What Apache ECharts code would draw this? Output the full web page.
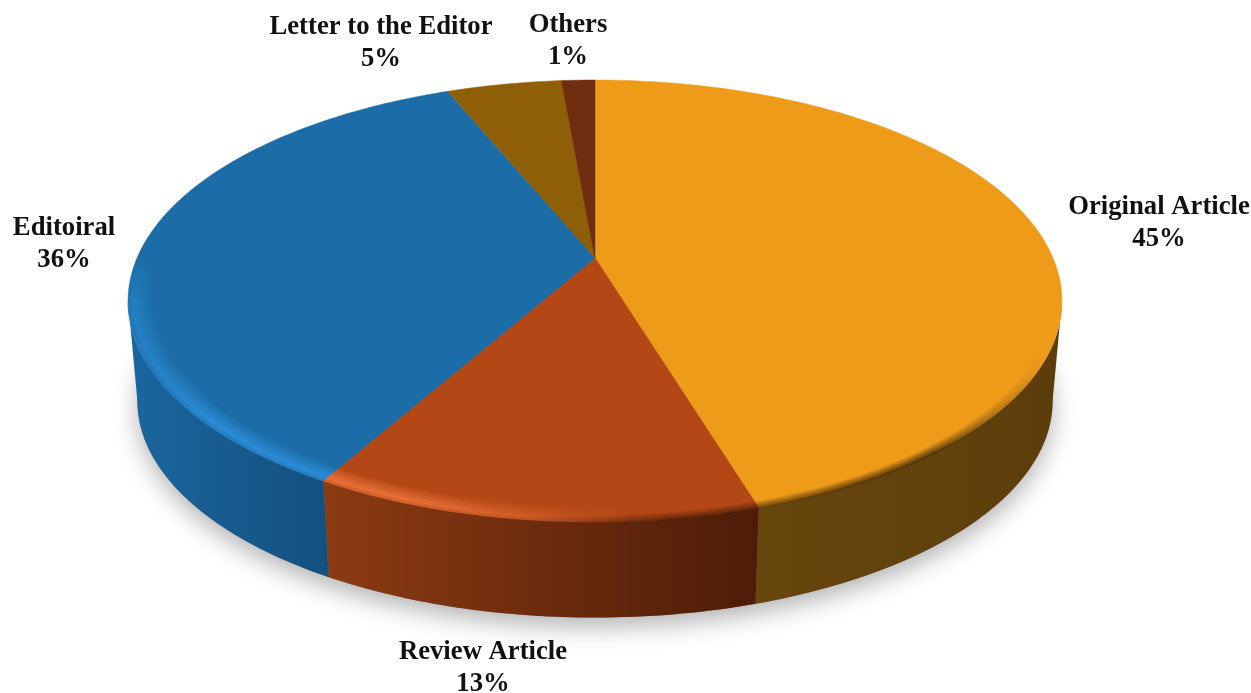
<!DOCTYPE html>
<html>
<head>
<meta charset="utf-8">
<title>Article types</title>
<style>
  html, body { margin: 0; padding: 0; background: #fff; }
  #main { width: 1251px; height: 693px; }
</style>
<script src="https://cdn.jsdelivr.net/npm/echarts@6/dist/echarts.min.js"></script>
</head>
<body>
<div id="main"></div>
<script>
const categories = ['Original Article', 'Review Article', 'Editoiral', 'Letter to the Editor', 'Others']
const values = [45.3, 12.9, 35.6, 4.8, 1.4]

const faceColors = ['#EE9B1A', '#B34716', '#1C6DA7', '#8F5F08', '#6F2C0F']
const wallColors = [
  ['#68470e', '#5c3d0a'],
  ['#8c3b12', '#4d1c08'],
  ['#1a669f', '#14507f'],
  ['#5c3d0a', '#5c3d0a'],
  ['#4d1c08', '#4d1c08']
]
const rimLights = ['250,190,80', '240,118,60', '45,145,222', '170,120,30', '130,60,30']
const labelAnchors = [[1159, 223], [483, 668], [64, 244], [381, 43], [568, 41]]

// tilted disc: unit circle -> screen, apex sits above the ellipse centre
const apexX = 595
const apexY = 258
const tilt = 0.1946
const depthY = 162.4
const spanX = 458
// bottom edge of the wall is the top ellipse, a bit smaller and moved down
const ellipseY = 301
const bottomY = 401
const bottomScale = 0.98

const project = (f, r) => {
  const t = f * Math.PI * 2
  const u = r * Math.sin(t)
  const v = r * Math.cos(t)
  const w = 1 + tilt * v
  return [apexX + spanX * u / w, (apexY - depthY * v) / w]
}
const lower = (p) => [
  apexX + (p[0] - apexX) * bottomScale,
  bottomY + (p[1] - ellipseY) * bottomScale
]
const arc = (from, to, r) => {
  const n = Math.max(2, Math.ceil((to - from) * 360))
  const pts = []
  for (let i = 0; i <= n; i++) pts.push(project(from + (to - from) * i / n, r))
  return pts
}
const strip = (from, to, r1, r2) => arc(from, to, r1).concat(arc(from, to, r2).reverse())

const wallFrom = Math.acos(-tilt) / (Math.PI * 2)
const wallTo = 1 - wallFrom
const fadeLen = 0.03

// bevel: light part on the left of the front rim, dark part on the right
const bandCount = 12
const bandWidth = 0.0042
const lightAt = (d) => (d < 0.22 ? 0.45 + 2.5 * d : 1 - (d - 0.22) / 0.78) * 0.95
const darkAt = (d) => (d < 0.45 ? (1 - d / 0.45) * 0.8 : 0)

const lightFill = (light, k) => ({
  type: 'linear', x: 128, y: 0, x2: 1062, y2: 0, global: true,
  colorStops: [
    { offset: 0, color: `rgba(${light},${k * 0.5})` },
    { offset: 0.09, color: `rgba(${light},${k})` },
    { offset: 0.3, color: `rgba(${light},${k})` },
    { offset: 0.45, color: `rgba(${light},${k * 0.4})` },
    { offset: 0.54, color: `rgba(${light},0)` }
  ]
})
const darkFill = (k) => ({
  type: 'linear', x: 128, y: 0, x2: 1062, y2: 0, global: true,
  colorStops: [
    { offset: 0.42, color: 'rgba(40,15,0,0)' },
    { offset: 0.58, color: `rgba(40,15,0,${k * 0.75})` },
    { offset: 0.86, color: `rgba(40,25,0,${k})` },
    { offset: 0.98, color: 'rgba(40,25,0,0)' }
  ]
})
// short piece above the widest point of the disc, fading out upwards
const fadeFill = (rgb, k, y1, y2) => ({
  type: 'linear', x: 0, y: y1, x2: 0, y2: y2, global: true,
  colorStops: [
    { offset: 0, color: `rgba(${rgb},0)` },
    { offset: 1, color: `rgba(${rgb},${k})` }
  ]
})

let running = 0
const starts = values.map((v) => {
  const s = running
  running += v
  return s
})

const renderSlice = (params, api) => {
  const i = params.dataIndex
  const from = api.value(1) / running
  const to = from + api.value(0) / running
  const children = []

  if (i === 0) {
    children.push({
      type: 'polygon',
      z2: 0,
      shape: { points: arc(0, 1, 1).map(lower) },
      style: { fill: '#777', shadowBlur: 24, shadowColor: 'rgba(0,0,0,0.3)', shadowOffsetY: 9 }
    })
  }

  const a = Math.max(from, wallFrom)
  const b = Math.min(to, wallTo)
  if (b > a) {
    const top = arc(a, b, 1)
    children.push({
      type: 'polygon',
      z2: 1,
      shape: { points: top.concat(top.map(lower).reverse()) },
      style: {
        fill: new echarts.graphic.LinearGradient(0, 0, 1, 0, [
          { offset: 0, color: wallColors[i][0] },
          { offset: 1, color: wallColors[i][1] }
        ])
      }
    })
    for (let n = 0; n < bandCount; n++) {
      const r1 = n === 0 ? 1.002 : 1 - n * bandWidth
      const r2 = 1 - (n + 1) * bandWidth
      const d = (n + 0.5) / bandCount
      const pts = strip(a, b, r1, r2)
      children.push({ type: 'polygon', z2: 3, shape: { points: pts }, style: { fill: lightFill(rimLights[i], lightAt(d)) } })
      if (darkAt(d) > 0) {
        children.push({ type: 'polygon', z2: 3, shape: { points: pts }, style: { fill: darkFill(darkAt(d)) } })
      }
      // left rim carries on a little past the end of the wall
      if (b === wallTo) {
        const y1 = project(wallTo + fadeLen, 1)[1]
        const y2 = project(wallTo, 1)[1]
        children.push({
          type: 'polygon', z2: 3,
          shape: { points: strip(wallTo, wallTo + fadeLen, Math.min(r1, 1), r2) },
          style: { fill: fadeFill(rimLights[i], lightAt(d) * 0.5, y1, y2) }
        })
      }
    }
  }

  children.push({
    type: 'polygon',
    z2: 2,
    shape: { points: [[apexX, apexY]].concat(arc(from, to, 1)) },
    style: { fill: faceColors[i], stroke: faceColors[i], lineWidth: 0.5 }
  })

  children.push({
    type: 'text',
    z2: 4,
    style: {
      x: labelAnchors[i][0],
      y: labelAnchors[i][1],
      text: categories[i] + '\n' + Math.round(api.value(0)) + '%',
      font: 'bold 26.7px "Liberation Serif"',
      lineHeight: 32,
      fill: '#111',
      align: 'center',
      verticalAlign: 'middle'
    }
  })

  return { type: 'group', children }
}

const myChart = echarts.init(document.getElementById('main'), null, { renderer: 'canvas' })
myChart.setOption({
  animation: false,
  backgroundColor: '#fff',
  series: [
    {
      type: 'custom',
      coordinateSystem: 'none',
      silent: true,
      renderItem: renderSlice,
      encode: { value: 0 },
      data: categories.map((name, i) => ({ name, value: [values[i], starts[i]] }))
    }
  ]
})
</script>
</body>
</html>
